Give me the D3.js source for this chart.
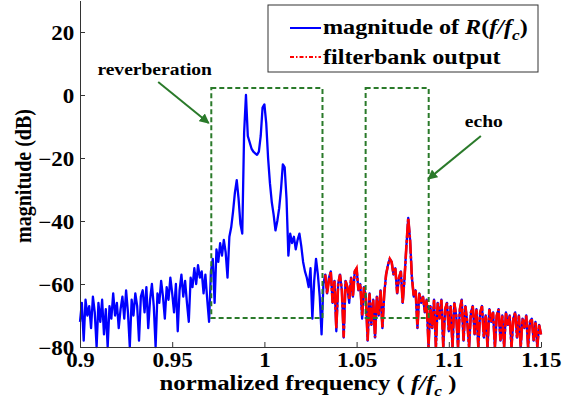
<!DOCTYPE html>
<html lang="en">
  <head>
    <meta charset="UTF-8" />
    <title>Spectrum with reverberation and echo</title>
    <script src="https://d3js.org/d3.v7.min.js"></script>
    <style>
      body { margin: 0; background: #fff; }
      svg text { font-family: "Liberation Serif", "DejaVu Serif", serif !important; font-weight: bold; fill: #000; }
    </style>
  </head>
  <body>
    <svg id="chart" width="575" height="404"></svg>
    <script>
      // sampling grid of the spectrum (normalized frequency)
      const fStart = 0.9;
      const fStep = 0.001;

      // |R(f/fc)| in dB, one value per step from 0.900 to 1.150
      const magnitude = [
        -72, -66, -78, -65, -70, -67, -74, -64, -69, -80, // 0.900
        -66, -72, -65, -76, -68, -80, -67, -71, -63, -70, // 0.910
        -66, -74, -68, -64, -71, -62, -69, -80, -65, -70, // 0.920
        -63, -67, -78, -64, -62, -69, -61, -74, -65, -60, // 0.930
        -67, -80, -63, -66, -59, -64, -71, -61, -65, -58, // 0.940
        -63, -69, -60, -75, -62, -57, -64, -59, -66, -72, // 0.950
        -58, -61, -55, -60, -54, -58, -56, -63, -57, -65, // 0.960
        -72, -56, -52, -66, -49, -53, -47, -51, -46, -50, // 0.970
        -58, -45, -42, -37, -31, -27, -33, -41, -44, -12, // 0.980
        0, -13, -15, -17, -18, -18.5, -19, -18, -13, -4, // 0.990
        -3, -9, -20, -28, -34, -38, -43, -40, -36, -30, // 1.000
        -22, -23, -33, -51, -44, -47, -45, -49, -46, -44, // 1.010
        -48, -53, -56, -58, -61, -55, -71, -59, -52, -57, // 1.020
        -64, -76, -60, -57, -63, -58, -56, -66, -59, -75, // 1.030
        -60, -57, -62, -77, -59, -61, -66, -58, -64, -56, // 1.040
        -55, -62, -60, -71, -61, -64, -78, -63, -73, -65, // 1.050
        -77, -64, -70, -62, -74, -63, -57, -54, -52, -53, // 1.060
        -57, -55, -63, -58, -56, -66, -58, -48, -39, -46, // 1.070
        -58, -64, -62, -74, -63, -66, -64, -69, -65, -80, // 1.080
        -67, -74, -65, -80, -66, -71, -65, -80, -68, -66, // 1.090
        -75, -67, -80, -66, -70, -80, -68, -65, -78, -67, // 1.100
        -72, -80, -69, -67, -76, -68, -80, -69, -67, -77, // 1.110
        -70, -80, -68, -72, -69, -80, -70, -68, -78, -70, // 1.120
        -80, -69, -73, -70, -80, -71, -69, -77, -70, -80, // 1.130
        -71, -74, -70, -80, -72, -71, -78, -72, -80, -73, // 1.140
        -76                                                // 1.150
      ];

      // filterbank output in dB, from 1.033 to 1.150
      const fbStart = 1.033;
      const filterbank = [
        -57, -63, -59, -56, -66, -59, -74, -60, -57, -62, -77, -59, -61, -65, -58, -64, -56,  // 1.033
        -55, -62, -60, -70, -61, -64, -78, -63, -73, -65,  // 1.050
        -77, -64, -70, -62, -74, -63, -57, -54, -52, -53,  // 1.060
        -57, -55, -63, -58, -56, -66, -58, -48, -39, -46,  // 1.070
        -58, -64, -62, -74, -63, -66, -64, -69, -65, -80,  // 1.080
        -67, -74, -65, -80, -66, -71, -65, -80, -68, -66,  // 1.090
        -75, -67, -80, -66, -70, -80, -68, -65, -78, -67,  // 1.100
        -72, -80, -69, -67, -76, -68, -80, -69, -67, -77,  // 1.110
        -70, -80, -68, -72, -69, -80, -70, -68, -78, -70,  // 1.120
        -80, -69, -73, -70, -80, -71, -69, -77, -70, -80,  // 1.130
        -71, -74, -70, -80, -72, -71, -78, -72, -80, -73,  // 1.140
        -76                                                 // 1.150
      ];

      const xTicks = [0.9, 0.95, 1, 1.05, 1.1, 1.15];
      const yTicks = [-80, -60, -40, -20, 0, 20];

      // annotation regions: [f0, f1, dB low, dB high]
      const reverbBox = [0.9712, 1.0315, -70.8, 2.2];
      const echoBox = [1.0549, 1.0891, -70.8, 2.2];
      // arrows: [from f, from dB, to f, to dB]
      const reverbArrow = [0.9424, 4.1, 0.9698, -8.9];
      const echoArrow = [1.1174, -13, 1.0888, -26.7];

      const serif = "'Liberation Serif', 'DejaVu Serif', serif";
      const svg = d3.select("#chart").attr("font-family", serif);
      const x = d3.scaleLinear().domain([0.9, 1.15]).range([80, 541]);
      const y = d3.scaleLinear().domain([-80, 30]).range([347, 0.5]);
      const sx = 1.15; // the source picture is a little stretched sideways

      const blueData = magnitude.map((v, i) => [fStart + i * fStep, v]);
      const redData = filterbank.map((v, i) => [fbStart + i * fStep, v]);
      const line = d3.line().x(d => x(d[0])).y(d => y(d[1]));

      svg.append("path")
        .datum(blueData)
        .attr("d", line)
        .attr("fill", "none")
        .attr("stroke", "#0000ff")
        .attr("stroke-width", 2.3)
        .attr("stroke-linejoin", "round");

      svg.append("path")
        .datum(redData)
        .attr("d", line)
        .attr("fill", "none")
        .attr("stroke", "#ff0000")
        .attr("stroke-width", 2.6)
        .attr("stroke-dasharray", "14,2,3,2");

      // green dashed boxes
      const green = "#2a7a2a";
      [reverbBox, echoBox].forEach(b => {
        svg.append("rect")
          .attr("x", x(b[0]))
          .attr("y", y(b[3]))
          .attr("width", x(b[1]) - x(b[0]))
          .attr("height", y(b[2]) - y(b[3]))
          .attr("fill", "none")
          .attr("stroke", green)
          .attr("stroke-width", 2)
          .attr("stroke-dasharray", "5,3");
      });

      svg.append("defs").append("marker")
        .attr("id", "arrow")
        .attr("viewBox", "0 0 10 10")
        .attr("refX", 9).attr("refY", 5)
        .attr("markerWidth", 5).attr("markerHeight", 5)
        .attr("orient", "auto")
        .append("path")
        .attr("d", "M0,0L10,5L0,10z")
        .attr("fill", green);

      [reverbArrow, echoArrow].forEach(a => {
        svg.append("line")
          .attr("x1", x(a[0])).attr("y1", y(a[1]))
          .attr("x2", x(a[2])).attr("y2", y(a[3]))
          .attr("stroke", green)
          .attr("stroke-width", 2)
          .attr("marker-end", "url(#arrow)");
      });

      function label(px, py, size, anchor) {
        return svg.append("text")
          .attr("transform", `translate(${px},${py}) scale(${sx},1)`)
          .attr("font-family", serif)
          .attr("font-weight", "bold")
          .attr("font-size", size)
          .attr("text-anchor", anchor);
      }

      label(x(0.9405), y(6.3), 17, "middle").text("reverberation");
      label(x(1.119), y(-10.2), 17, "middle").text("echo");

      // axes, ticks inside, no box
      const axisColor = "#333";
      const gy = svg.append("g")
        .attr("transform", "translate(80,0)")
        .call(d3.axisLeft(y).tickValues(yTicks).tickSize(-5).tickSizeOuter(0).tickPadding(5));
      gy.selectAll("text")
        .attr("font-size", 20)
        .attr("dy", "0.38em")
        .attr("transform", `scale(${sx},1)`);

      const gx = svg.append("g")
        .attr("transform", "translate(0,347)")
        .call(d3.axisBottom(x).tickValues(xTicks).tickFormat(d3.format("")).tickSize(-5).tickSizeOuter(0).tickPadding(6));
      gx.selectAll("text")
        .attr("font-size", 20)
        .attr("transform", `scale(${sx},1)`);

      [gx, gy].forEach(g => {
        g.attr("font-family", serif).attr("font-size", 20);
        g.selectAll("path, line").attr("stroke", axisColor);
        g.selectAll("text").attr("fill", "#000").attr("font-weight", "bold");
      });

      // axis titles
      const xt = label(308, 390, 21.5, "middle");
      xt.append("tspan").text("normalized frequency ( ");
      xt.append("tspan").attr("font-style", "italic").text("f/f");
      xt.append("tspan").attr("font-style", "italic").attr("font-size", 15).attr("dy", 6).text("c");
      xt.append("tspan").attr("dy", -6).text(" )");

      svg.append("text")
        .attr("transform", "translate(31,176) rotate(-90) scale(1,1.15)")
        .attr("font-family", serif)
        .attr("font-weight", "bold")
        .attr("font-size", 20)
        .attr("text-anchor", "middle")
        .text("magnitude (dB)");

      // legend
      const lg = svg.append("g");
      lg.append("rect")
        .attr("x", 268).attr("y", 5).attr("width", 270).attr("height", 67)
        .attr("fill", "#fff").attr("stroke", axisColor).attr("stroke-width", 1);
      lg.append("line")
        .attr("x1", 290).attr("x2", 321).attr("y1", 28).attr("y2", 28)
        .attr("stroke", "#0000ff").attr("stroke-width", 2);
      lg.append("line")
        .attr("x1", 290).attr("x2", 321).attr("y1", 57).attr("y2", 57)
        .attr("stroke", "#ff0000").attr("stroke-width", 2)
        .attr("stroke-dasharray", "4,2,1.5,2");

      const t1 = label(323, 34, 21, "start");
      t1.append("tspan").text("magnitude of ");
      t1.append("tspan").attr("font-style", "italic").text("R");
      t1.append("tspan").text("(");
      t1.append("tspan").attr("font-style", "italic").text("f/f");
      t1.append("tspan").attr("font-style", "italic").attr("font-size", 15).attr("dy", 6).text("c");
      t1.append("tspan").attr("dy", -6).text(")");

      label(323, 64, 21, "start").text("filterbank output");
    </script>
  </body>
</html>
